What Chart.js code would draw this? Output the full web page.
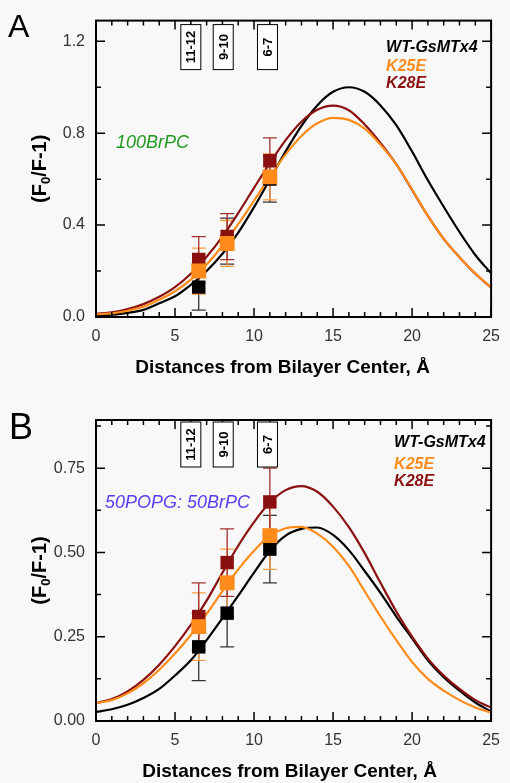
<!DOCTYPE html>
<html>
<head>
<meta charset="utf-8">
<script src="https://cdn.jsdelivr.net/npm/chart.js@4.4.1/dist/chart.umd.min.js"></script>
<style>
  html, body { margin: 0; padding: 0; background: #f8f8f8; }
  #wrapA { position: absolute; left: 0; top: 0; width: 510px; height: 392px; }
  #wrapB { position: absolute; left: 0; top: 392px; width: 510px; height: 391px; }
</style>
</head>
<body>
<div id="wrapA"><canvas id="chartA"></canvas></div>
<div id="wrapB"><canvas id="chartB"></canvas></div>
<script>
// distances (Å) where the fitted curves were read
const DIST = [0, 1, 2, 3, 4, 5, 6, 7, 8, 9, 10, 11, 12, 13, 14, 15, 16, 17, 18, 19, 20, 21, 22, 23, 24, 25];
// bromine label positions (measured points)
const SITE_POS = [6.5, 8.3, 11];
const SITE_BOX_POS = [6.0, 8.05, 10.85];
const SITE_LABELS = ["11-12", "9-10", "6-7"];
const SERIES = ["WT-GsMTx4", "K25E", "K28E"];
const X_TICKS = [0, 5, 10, 15, 20, 25];

// panel A : 100BrPC
const A_Y_TICKS = [0, 0.4, 0.8, 1.2];
const A_FIT_WT   = [0.005, 0.010, 0.018, 0.031, 0.060, 0.090, 0.140, 0.200, 0.275, 0.367, 0.478, 0.599, 0.721, 0.832, 0.921, 0.980, 1.000, 0.980, 0.921, 0.835, 0.720, 0.595, 0.480, 0.370, 0.270, 0.190];
const A_FIT_K25E = [0.012, 0.016, 0.027, 0.045, 0.075, 0.112, 0.163, 0.228, 0.310, 0.404, 0.506, 0.611, 0.708, 0.788, 0.843, 0.867, 0.858, 0.820, 0.750, 0.665, 0.555, 0.440, 0.340, 0.260, 0.190, 0.128];
const A_FIT_K28E = [0.015, 0.020, 0.034, 0.056, 0.088, 0.130, 0.188, 0.262, 0.350, 0.452, 0.562, 0.670, 0.770, 0.850, 0.902, 0.920, 0.900, 0.838, 0.758, 0.665, 0.553, 0.440, 0.340, 0.260, 0.188, 0.128];
const A_PTS_WT   = [0.13, 0.33, 0.60];
const A_PTS_K25E = [0.20, 0.32, 0.61];
const A_PTS_K28E = [0.25, 0.35, 0.68];
const A_ERR_WT   = [0.10, 0.10, 0.10];
const A_ERR_K25E = [0.10, 0.10, 0.10];
const A_ERR_K28E = [0.10, 0.10, 0.10];

// panel B : 50POPG: 50BrPC
const B_Y_TICKS = [0, 0.25, 0.5, 0.75];
const B_FIT_WT   = [0.027, 0.035, 0.048, 0.068, 0.095, 0.135, 0.180, 0.240, 0.305, 0.372, 0.440, 0.505, 0.550, 0.570, 0.574, 0.552, 0.507, 0.445, 0.380, 0.310, 0.245, 0.180, 0.130, 0.090, 0.055, 0.028];
const B_FIT_K25E = [0.053, 0.062, 0.082, 0.112, 0.152, 0.200, 0.255, 0.318, 0.385, 0.450, 0.505, 0.550, 0.572, 0.576, 0.556, 0.517, 0.460, 0.385, 0.310, 0.240, 0.175, 0.125, 0.090, 0.062, 0.040, 0.025];
const B_FIT_K28E = [0.053, 0.065, 0.088, 0.122, 0.167, 0.222, 0.285, 0.357, 0.440, 0.520, 0.590, 0.648, 0.685, 0.697, 0.680, 0.636, 0.575, 0.498, 0.410, 0.325, 0.250, 0.185, 0.135, 0.095, 0.062, 0.040];
const B_PTS_WT   = [0.22, 0.32, 0.51];
const B_PTS_K25E = [0.28, 0.41, 0.55];
const B_PTS_K28E = [0.31, 0.47, 0.65];
const B_ERR_WT   = [0.10, 0.10, 0.10];
const B_ERR_K25E = [0.10, 0.10, 0.10];
const B_ERR_K28E = [0.10, 0.10, 0.10];

const COLORS = ["#000000", "#ff8c1a", "#8b1111"];
const ERR_COLORS = ["#333333", "#ff9c40", "#a33030"];
const FONT = '"Liberation Sans", Arial, sans-serif';

// error bars, frame with inward ticks, site boxes, legend and titles
const panelDecor = {
  id: "panelDecor",
  beforeDatasetsDraw(chart, args, o) {
    const { ctx, scales: { x, y } } = chart;
    ctx.save();
    ctx.lineWidth = 1.3;
    o.pts.forEach((vals, i) => {
      ctx.strokeStyle = ERR_COLORS[i];
      SITE_POS.forEach((p, j) => {
        const px = x.getPixelForValue(p);
        const y1 = y.getPixelForValue(vals[j] + o.err[i][j]);
        const y2 = y.getPixelForValue(vals[j] - o.err[i][j]);
        ctx.beginPath();
        ctx.moveTo(px, y1); ctx.lineTo(px, y2);
        ctx.moveTo(px - 7, y1); ctx.lineTo(px + 7, y1);
        ctx.moveTo(px - 7, y2); ctx.lineTo(px + 7, y2);
        ctx.stroke();
      });
    });
    ctx.restore();
  },
  afterDraw(chart, args, o) {
    const { ctx, chartArea: ca, scales: { x, y } } = chart;
    ctx.save();

    // frame
    ctx.strokeStyle = "#000";
    ctx.lineWidth = 2;
    ctx.strokeRect(ca.left, ca.top, ca.right - ca.left, ca.bottom - ca.top);

    // inward ticks
    ctx.lineWidth = 1.5;
    ctx.beginPath();
    for (let v = 0; v <= 25; v++) {
      const px = x.getPixelForValue(v);
      const len = v % 5 === 0 ? 9 : 5;
      ctx.moveTo(px, ca.bottom); ctx.lineTo(px, ca.bottom - len);
      ctx.moveTo(px, ca.top); ctx.lineTo(px, ca.top + len);
    }
    for (let k = 0; k * o.minorStep <= y.max + 1e-9; k++) {
      const py = y.getPixelForValue(k * o.minorStep);
      const len = k % 2 === 0 ? 9 : 5;
      ctx.moveTo(ca.left, py); ctx.lineTo(ca.left + len, py);
      ctx.moveTo(ca.right, py); ctx.lineTo(ca.right - len, py);
    }
    ctx.stroke();

    // quencher position boxes
    ctx.lineWidth = 1;
    SITE_BOX_POS.forEach((p, i) => {
      const cx = x.getPixelForValue(p);
      const top = ca.top + o.boxTop;
      ctx.fillStyle = "#fff";
      ctx.fillRect(cx - 10, top, 20, 45);
      ctx.strokeRect(cx - 10, top, 20, 45);
      ctx.save();
      ctx.translate(cx, top + 22.5);
      ctx.rotate(-Math.PI / 2);
      ctx.fillStyle = "#000";
      ctx.font = "bold 13px " + FONT;
      ctx.textAlign = "center";
      ctx.textBaseline = "middle";
      ctx.fillText(SITE_LABELS[i], 0, 1);
      ctx.restore();
    });

    // legend
    ctx.font = "bold italic 16px " + FONT;
    ctx.textAlign = "left";
    ctx.textBaseline = "middle";
    SERIES.forEach((s, i) => {
      ctx.fillStyle = COLORS[i];
      ctx.fillText(s, ca.right - o.legendDx, ca.top + o.legendY[i]);
    });

    // membrane note
    ctx.font = "italic 18px " + FONT;
    ctx.fillStyle = o.noteColor;
    ctx.fillText(o.note, o.noteX, ca.top + o.noteY);

    // x title
    ctx.fillStyle = "#000";
    ctx.font = "bold 19px " + FONT;
    ctx.textAlign = "center";
    ctx.fillText("Distances from Bilayer Center, Å", (ca.left + ca.right) / 2 + o.xTitleDx, ca.bottom + 51);

    // y title with subscript
    ctx.save();
    ctx.translate(40, (ca.top + ca.bottom) / 2);
    ctx.rotate(-Math.PI / 2);
    ctx.textAlign = "left";
    const big = "bold 20px " + FONT, small = "bold 13px " + FONT;
    ctx.font = big; const w1 = ctx.measureText("(F").width; const w3 = ctx.measureText("/F-1)").width;
    ctx.font = small; const w2 = ctx.measureText("0").width;
    let sx = -(w1 + w2 + w3) / 2;
    ctx.font = big; ctx.fillText("(F", sx, 0); sx += w1;
    ctx.font = small; ctx.fillText("0", sx, 6); sx += w2;
    ctx.font = big; ctx.fillText("/F-1)", sx, 0);
    ctx.restore();

    // panel letter
    ctx.font = o.letterSize + "px " + FONT;
    ctx.textAlign = "left";
    ctx.textBaseline = "alphabetic";
    ctx.fillText(o.letter, o.letterX, o.letterY);

    ctx.restore();
  }
};

function makePanel(id, cfg) {
  const datasets = [];
  cfg.fits.forEach((fit, i) => {
    datasets.push({
      type: "line",
      data: DIST.map((d, j) => ({ x: d, y: fit[j] })),
      borderColor: COLORS[i],
      borderWidth: 2.2,
      pointRadius: 0,
      cubicInterpolationMode: "monotone",
      order: [12, 10, 11][i]
    });
  });
  cfg.pts.forEach((vals, i) => {
    datasets.push({
      type: "scatter",
      data: SITE_POS.map((p, j) => ({ x: p, y: vals[j] })),
      pointStyle: "rect",
      pointRadius: [9.5, 10.5, 9.5][i],
      borderWidth: 0,
      backgroundColor: COLORS[i],
      borderColor: COLORS[i],
      order: [3, 1, 2][i]
    });
  });

  return new Chart(document.getElementById(id), {
    data: { datasets },
    options: {
      responsive: true,
      maintainAspectRatio: false,
      animation: false,
      layout: { padding: { top: cfg.padTop, right: cfg.padRight, left: 0, bottom: 0 } },
      scales: {
        x: {
          type: "linear", min: 0, max: 25,
          afterBuildTicks: s => { s.ticks = X_TICKS.map(v => ({ value: v })); },
          afterFit: s => { s.height = cfg.xHeight; },
          grid: { display: false, drawTicks: false },
          border: { display: false },
          ticks: { padding: 10, color: "#333", font: { size: 16, family: FONT }, maxRotation: 0 }
        },
        y: {
          type: "linear", min: 0, max: cfg.yMax,
          afterBuildTicks: s => { s.ticks = cfg.yTicks.map(v => ({ value: v })); },
          afterFit: s => { s.width = 96; },
          grid: { display: false, drawTicks: false },
          border: { display: false },
          ticks: { padding: 11, color: "#333", font: { size: 16, family: FONT }, callback: v => v.toFixed(cfg.dec) }
        }
      },
      plugins: {
        legend: { display: false },
        tooltip: { enabled: false },
        panelDecor: cfg.decor
      }
    },
    plugins: [panelDecor]
  });
}

makePanel("chartA", {
  fits: [A_FIT_WT, A_FIT_K25E, A_FIT_K28E],
  pts: [A_PTS_WT, A_PTS_K25E, A_PTS_K28E],
  yMax: 1.29, yTicks: A_Y_TICKS, dec: 1,
  padTop: 15, padRight: 10, xHeight: 75,
  decor: {
    pts: [A_PTS_WT, A_PTS_K25E, A_PTS_K28E],
    err: [A_ERR_WT, A_ERR_K25E, A_ERR_K28E],
    minorStep: 0.2, boxTop: 4,
    legendDx: 105, legendY: [27, 46, 63],
    note: "100BrPC", noteColor: "#229922", noteX: 116, noteY: 122,
    xTitleDx: -11,
    letter: "A", letterSize: 32, letterX: 8, letterY: 37
  }
});

makePanel("chartB", {
  fits: [B_FIT_WT, B_FIT_K25E, B_FIT_K28E],
  pts: [B_PTS_WT, B_PTS_K25E, B_PTS_K28E],
  yMax: 0.893, yTicks: B_Y_TICKS, dec: 2,
  padTop: 28, padRight: 12, xHeight: 62,
  decor: {
    pts: [B_PTS_WT, B_PTS_K25E, B_PTS_K28E],
    err: [B_ERR_WT, B_ERR_K25E, B_ERR_K28E],
    minorStep: 0.125, boxTop: 2,
    legendDx: 97, legendY: [23, 45, 62],
    note: "50POPG: 50BrPC", noteColor: "#5b3cf5", noteX: 105, noteY: 83,
    xTitleDx: -4,
    letter: "B", letterSize: 36, letterX: 9, letterY: 47
  }
});
</script>
</body>
</html>
